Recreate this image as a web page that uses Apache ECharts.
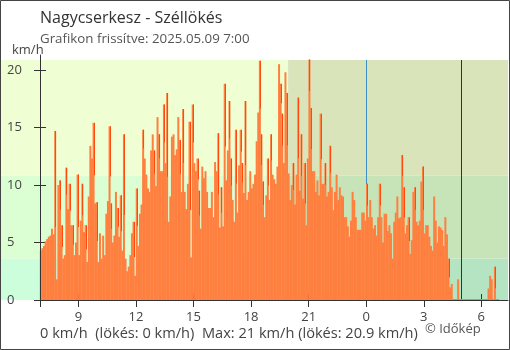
<!DOCTYPE html>
<html>
<head>
<meta charset="utf-8">
<title>Nagycserkesz - Széllökés</title>
<script src="https://cdn.jsdelivr.net/npm/echarts@6/dist/echarts.min.js"></script>
<style>
  html, body { margin: 0; padding: 0; background: #fff; }
  #chart { width: 510px; height: 350px; }
</style>
</head>
<body>
<div id="chart"></div>
<script>
// Wind gust readings (km/h), one every 5 minutes starting at 07:00
const startHour = 7;
const stepMinutes = 5;
const gusts = [
  4.3, 4.5, 4.7, 5.1, 5.3, 5.5, 5.6, 6.2, 5.7, 14.7, 1.8, 10.0, 10.4, 6.5, 3.6, 3.9,
  11.5, 7.9, 10.1, 6.5, 6.5, 3.9, 5.0, 10.9, 3.9, 6.9, 10.1, 5.9, 6.5, 3.3, 9.0, 13.4,
  12.3, 15.4, 8.4, 8.5, 3.3, 5.8, 3.6, 5.6, 3.9, 7.5, 8.6, 15.1, 8.4, 5.0, 5.6, 9.4, 8.0,
  5.5, 9.1, 4.3, 14.4, 3.6, 2.5, 2.9, 3.9, 5.8, 6.8, 2.1, 9.7, 4.7, 7.5, 8.3, 14.8,
  12.3, 10.9, 9.7, 9.4, 13.0, 14.4, 13.0, 9.9, 15.9, 14.4, 11.2, 11.2, 17.0, 11.9, 18.0, 6.8,
  9.0, 14.2, 14.4, 12.6, 13.1, 15.9, 13.9, 9.4, 16.6, 9.4, 7.9, 10.1, 15.5, 3.7, 17.0, 11.9, 11.2,
  12.3, 9.5, 6.2, 11.6, 10.6, 11.2, 9.4, 8.0, 8.0, 9.4, 7.2, 12.0, 11.2, 14.5, 6.3, 9.8,
  6.4, 18.8, 10.4, 13.0, 17.3, 12.3, 8.7, 6.8, 14.8, 7.6, 11.7, 14.8, 11.9, 9.3, 17.3, 8.7,
  9.4, 11.2, 9.7, 10.1, 10.9, 13.8, 16.3, 20.8, 14.4, 10.3, 7.2, 9.1, 12.3, 8.7, 14.4, 10.9,
  10.5, 10.1, 11.6, 20.5, 18.8, 16.2, 11.9, 19.8, 18.0, 11.0, 8.7, 10.0, 11.9, 8.3, 10.9, 17.6,
  9.5, 14.4, 8.8, 11.9, 6.5, 12.3, 20.9, 16.7, 11.2, 11.2, 9.4, 10.4, 9.1, 16.2, 10.1, 10.1,
  11.9, 9.0, 9.4, 13.4, 9.8, 7.8, 9.4, 10.9, 8.7, 9.8, 9.1, 9.0, 7.2, 7.2, 6.4, 5.5, 6.9,
  9.4, 8.7, 7.2, 6.1, 6.1, 6.1, 7.6, 7.6, 6.9, 10.1, 7.2, 8.7, 7.2, 6.2, 6.5, 5.6,
  7.2, 10.1, 7.2, 5.0, 7.5, 7.5, 6.0, 6.5, 5.8, 3.6, 6.8, 7.6, 9.0, 7.1, 7.2, 12.6,
  9.8, 5.8, 6.5, 7.2, 4.0, 5.2, 9.4, 9.8, 6.8, 6.5, 6.9, 10.3, 11.6, 5.8, 6.5, 6.5, 5.5,
  4.7, 4.3, 9.0, 6.9, 5.0, 6.4, 6.3, 6.1, 4.7, 7.2, 5.7, 3.6, 1.1, 1.4, 0, 0,
  0, 1.8, 0, 0, 0, 0, 0, 0, 0, 0, 0, 0, 0, 0, 0, 0,
  0, 0, 0, 0, 1.0, 2.1, 1.8, 0, 2.9, 0, 0
];

// Axis ticks (hours since midnight of the first day) and speed ticks
const hourTicks = [9, 12, 15, 18, 21, 24, 27, 30];
const speedTicks = [0, 5, 10, 15, 20];

// Background zones: calm / light air / breeze (km/h), day and night
const speedZones = [0, 3.6, 10.8, 20.87];
const sunsetHour = 19.93;
const midnightHour = 24;
const sunriseHour = 28.95;
const xMin = 7, xMax = 31.39;
const yMax = 21.3;

const dayColors = ['#ccfedb', '#dcfed3', '#f0ffd3'];
const nightColors = ['#b5e4c2', '#c6e4b8', '#d9e4bb'];
const barColor = '#ff7f3f';
const edgeColor = '#ff4a0c';
const font = 'Open Sans';

const zoneRects = [];
for (let k = 0; k < 3; k++) {
  zoneRects.push([xMin, sunsetHour, speedZones[k], speedZones[k + 1], dayColors[k]]);
  zoneRects.push([sunsetHour, xMax, speedZones[k], speedZones[k + 1], nightColors[k]]);
}

const gustData = gusts.map((v, i) => [startHour + (i + 0.5) * stepMinutes / 60, v]);

const chart = echarts.init(document.getElementById('chart'), null, { renderer: 'canvas' });

const plainTitle = (text, left, top, size, color) => ({
  text, left, top, padding: 0,
  textStyle: { fontFamily: font, fontSize: size, fontWeight: 'normal', color }
});

chart.setOption({
  animation: false,
  backgroundColor: '#fff',
  textStyle: { fontFamily: font },
  grid: { left: 40, right: 2, top: 55, bottom: 50 },
  title: [
    plainTitle('Nagycserkesz - Széllökés', 40, 10, 16, '#333'),
    plainTitle('Grafikon frissítve: 2025.05.09 7:00', 40, 33, 13.3, '#555'),
    plainTitle('km/h', 12, 44, 13, '#444'),
    plainTitle('0 km/h  (lökés: 0 km/h)  Max: 21 km/h (lökés: 20.9 km/h)', 40, 326, 14.6, '#444'),
    plainTitle('© Időkép', 425, 323, 13, '#555')
  ],
  graphic: [
    { type: 'rect', shape: { x: 0.5, y: 0.5, width: 509, height: 349 },
      style: { fill: null, stroke: '#444', lineWidth: 1 }, z: 100 }
  ],
  xAxis: [
    {
      type: 'value', min: xMin, max: xMax, position: 'bottom', z: 3,
      axisLine: { show: true, lineStyle: { color: '#333', width: 1 } },
      axisTick: { show: true, length: 7, customValues: [xMin].concat(hourTicks),
                  lineStyle: { color: '#333' } },
      axisLabel: { customValues: hourTicks, formatter: v => String(v % 24),
                   color: '#444', fontSize: 13, margin: 11, fontFamily: font },
      splitLine: { show: false }
    },
    {
      type: 'value', min: xMin, max: xMax, position: 'bottom', z: 1,
      axisLine: { show: false },
      axisTick: { show: true, inside: true, length: 6, customValues: hourTicks,
                  lineStyle: { color: '#333' } },
      axisLabel: { show: false },
      splitLine: { show: false }
    }
  ],
  yAxis: [
    {
      type: 'value', min: 0, max: yMax, position: 'left', z: 3,
      axisLine: { show: true, lineStyle: { color: '#333', width: 1 } },
      axisTick: { show: true, length: 6, customValues: speedTicks, lineStyle: { color: '#333' } },
      axisLabel: { customValues: speedTicks, align: 'left', margin: 33,
                   color: '#444', fontSize: 13, fontFamily: font },
      splitLine: { show: false }
    },
    {
      type: 'value', min: 0, max: yMax, position: 'left', z: 1,
      axisLine: { show: false },
      axisTick: { show: true, inside: true, length: 6, customValues: speedTicks,
                  lineStyle: { color: '#333' } },
      axisLabel: { show: false },
      splitLine: { show: false }
    }
  ],
  series: [
    {
      // day / night and wind-strength background zones, plus midnight & sunrise markers
      type: 'custom', z: 0, silent: true, clip: false,
      xAxisIndex: 0, yAxisIndex: 0,
      data: zoneRects,
      renderItem: function (params, api) {
        const x0 = api.value(0), x1 = api.value(1), y0 = api.value(2), y1 = api.value(3);
        const c = zoneRects[params.dataIndex][4];
        const p0 = api.coord([x0, y1]);
        const p1 = api.coord([x1, y0]);
        // the zones on the left run out under the speed labels to the frame
        const left = x0 === xMin ? 1 : p0[0];
        const children = [{
          type: 'rect',
          shape: { x: left, y: p0[1], width: p1[0] - left, height: p1[1] - p0[1] },
          style: { fill: c }
        }];
        if (params.dataIndex === zoneRects.length - 1) {
          const top = api.coord([midnightHour, speedZones[3]]);
          const bot = api.coord([midnightHour, 0]);
          const ms = api.coord([sunriseHour, 0]);
          const mt = api.coord([sunriseHour, speedZones[3]]);
          children.push({
            type: 'line',
            shape: { x1: Math.round(top[0]) + 0.5, y1: top[1], x2: Math.round(bot[0]) + 0.5, y2: bot[1] + 7 },
            style: { stroke: '#3a8fc4', lineWidth: 1 }
          });
          children.push({
            type: 'line',
            shape: { x1: Math.round(mt[0]) + 0.5, y1: mt[1], x2: Math.round(ms[0]) + 0.5, y2: ms[1] },
            style: { stroke: '#333', lineWidth: 1 }
          });
        }
        return { type: 'group', children: children };
      }
    },
    {
      name: 'Széllökés',
      type: 'bar', z: 2,
      xAxisIndex: 0, yAxisIndex: 0,
      data: gustData,
      barWidth: 2,
      barMinHeight: 1,
      itemStyle: { color: barColor },
      emphasis: { disabled: true }
    },
    {
      // darker trailing edge where a gust drops off into a lower reading
      type: 'custom', z: 3, silent: true,
      xAxisIndex: 0, yAxisIndex: 0,
      data: gustData,
      renderItem: function (params, api) {
        const i = params.dataIndex;
        const v = api.value(1);
        const next = i + 1 < gusts.length ? gusts[i + 1] : 0;
        if (v - next < 2.5) return null;
        const pTop = api.coord([api.value(0), v]);
        const pNext = api.coord([api.value(0), next + (v - next) * 0.35]);
        return {
          type: 'rect',
          shape: { x: Math.round(pTop[0]), y: pTop[1], width: 1, height: pNext[1] - pTop[1] },
          style: { fill: edgeColor }
        };
      }
    }
  ]
});
</script>
</body>
</html>
